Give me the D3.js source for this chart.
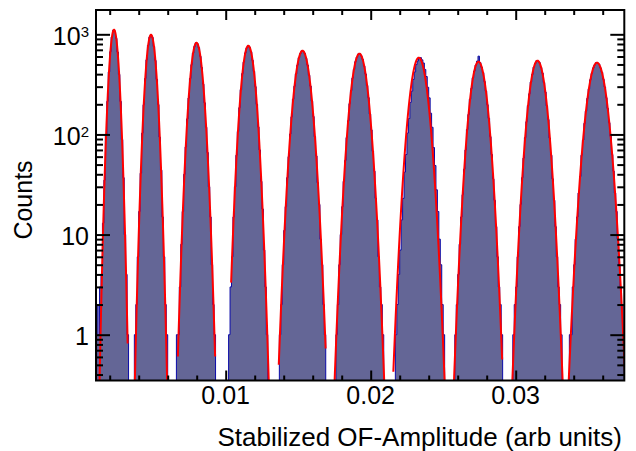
<!DOCTYPE html>
<html><head><meta charset="utf-8">
<script src="https://cdn.jsdelivr.net/npm/d3@7"></script>
<style>body{margin:0;background:#fff}</style>
</head><body><svg id="c" width="636" height="451"></svg>
<script>
// Histogram: bins of width 0.0001 starting at 0.0010
const binStart = 0.0010;
const binWidth = 0.0001;
const binCounts = [
 0,2,1,3,4,13,35,99,214,421,670,938,1095,1080,912,665,398,214,89,37,10,4,1,0,
 0,0,0,
 1,2,6,17,41,103,198,362,556,775,935,985,930,757,548,355,199,94,44,15,6,2,1,
 0,0,0,0,0,0,
 1,1,3,8,17,40,75,143,231,362,498,650,755,822,805,735,603,466,318,207,118,66,30,15,5,2,1,
 0,0,0,0,0,0,0,0,0,
 1,3,6,15,30,62,107,185,280,405,527,652,731,771,742,670,550,427,300,200,119,70,34,18,7,3,1,
 0,0,0,0,0,0,0,0,
 1,2,5,11,19,37,60,101,150,225,303,403,492,584,642,684,677,646,574,493,390,304,215,151,95,61,33,20,9,5,2,1,
 0,0,0,0,0,0,0,
 1,2,5,10,19,34,55,93,137,203,274,365,446,533,590,635,640,610,562,482,402,308,233,160,111,68,43,23,14,6,3,2,1,
 0,0,0,0,0,0,0,0,
 1,2,4,7,14,23,42,63,103,144,209,271,355,421,498,542,580,585,556,517,446,379,296,232,163,118,74,49,28,17,9,5,2,1,
 0,0,0,0,0,0,0,
 1,2,4,8,15,25,45,70,112,158,225,288,368,430,493,540,605,522,470,415,338,272,198,145,95,63,36,22,12,6,3,2,1,
 0,0,0,0,0,0,0,
 1,2,3,6,12,20,37,58,93,134,194,255,334,398,470,512,546,538,520,466,410,330,265,193,141,92,62,36,22,12,6,3,2,1,
 0,0,0,0,0,
 1,1,3,5,9,15,26,38,62,88,129,171,229,285,352,406,462,495,520,517,503,462,418,355,298,233,182,131,96,63,43,26,17,9,5,3,2,1
];
// Gaussian fit parameters per peak
const fitMean  = [0.002297,0.004848,0.007986,0.011559,0.015297,0.019221,0.023317,0.027434,0.031503,0.035607];
const fitSigma = [0.000248,0.000279,0.000338,0.000359,0.000431,0.000441,0.000462,0.000441,0.000452,0.000510];
const fitAmp   = [1110,990,823,769,685,640,584,533,545,521];
const fitLo    = [0.001181,0.003592,0.006702,0.010374,0.013659,0.017237,0.021561,0.025582,0.029469,0.033465];
const fitHi    = [0.003239,0.006104,0.009270,0.013175,0.016892,0.021206,0.025396,0.029066,0.033266,0.037902];
const yTickValues = [1,10,100,1000];
const xTickValues = [0.01,0.02,0.03];
const xTitle = "Stabilized OF-Amplitude (arb units)";
const yTitle = "Counts";

const L=96,R=624.3,T=10,B=380.5;
const svg=d3.select("#c");
const x=d3.scaleLinear().domain([0.001055,0.03749]).range([L,R]);
const y=d3.scaleLog().domain([0.3488,1749]).range([B,T]);
svg.append("clipPath").attr("id","clip").append("rect").attr("x",L).attr("y",T).attr("width",R-L).attr("height",B-T);
const g=svg.append("g").attr("clip-path","url(#clip)");

// histogram as stepped area
const steps=[];
binCounts.forEach((c,i)=>{const x0=binStart+i*binWidth,x1=x0+binWidth;steps.push([x0,c],[x1,c]);});
const yc=c=>c>0?y(c):B+20;
const area=d3.area().x(d=>x(d[0])).y0(B+20).y1(d=>yc(d[1]));
g.append("path").attr("d",area(steps)).attr("fill","#646696").attr("stroke","#0a0aa8").attr("stroke-width",1);

// fit curves
const line=d3.line().x(d=>x(d[0])).y(d=>y(Math.max(d[1],1e-3)));
fitMean.forEach((m,i)=>{
  const s=fitSigma[i],a=fitAmp[i],lo=fitLo[i],hi=fitHi[i];
  const pts=d3.range(0,301).map(k=>{const xv=lo+k*(hi-lo)/300;return [xv,a*Math.exp(-0.5*((xv-m)/s)**2)];});
  g.append("path").attr("d",line(pts)).attr("fill","none").attr("stroke","#ff0000").attr("stroke-width",2);
});

// frame
svg.append("rect").attr("x",L).attr("y",T).attr("width",R-L).attr("height",B-T).attr("fill","none").attr("stroke","#000").attr("stroke-width",2);
// ticks
const yMinor=[];[0.1,1,10,100,1000].forEach(d=>{for(let k=2;k<=9;k++){const v=d*k;if(v>=y.domain()[0]&&v<=y.domain()[1])yMinor.push(v);}});
svg.append("g").attr("transform",`translate(${L},0)`).call(d3.axisRight(y).tickValues(yTickValues).tickSize(14).tickFormat(""));
svg.append("g").attr("transform",`translate(${L},0)`).call(d3.axisRight(y).tickValues(yMinor).tickSize(7).tickFormat(""));
svg.append("g").attr("transform",`translate(${R},0)`).call(d3.axisLeft(y).tickValues(yTickValues).tickSize(14).tickFormat(""));
svg.append("g").attr("transform",`translate(${R},0)`).call(d3.axisLeft(y).tickValues(yMinor).tickSize(7).tickFormat(""));
const xMinor=d3.range(1,19).map(k=>k*0.002).filter(v=>!xTickValues.some(t=>Math.abs(t-v)<1e-9));
svg.append("g").attr("transform",`translate(0,${B})`).call(d3.axisTop(x).tickValues(xTickValues).tickSize(10).tickFormat(""));
svg.append("g").attr("transform",`translate(0,${B})`).call(d3.axisTop(x).tickValues(xMinor).tickSize(5).tickFormat(""));
svg.append("g").attr("transform",`translate(0,${T})`).call(d3.axisBottom(x).tickValues(xTickValues).tickSize(10).tickFormat(""));
svg.append("g").attr("transform",`translate(0,${T})`).call(d3.axisBottom(x).tickValues(xMinor).tickSize(5).tickFormat(""));
svg.selectAll(".domain").remove();
svg.selectAll(".tick line").attr("stroke","#000").attr("stroke-width",2);
// labels
const font="Liberation Sans, Arial, sans-serif";
yTickValues.forEach(v=>{
  const t=svg.append("text").attr("x",89).attr("y",y(v)+10.5).attr("text-anchor","end").attr("font-family",font).attr("font-size",25);
  const e=Math.round(Math.log10(v));
  if(e<=1){t.text(String(v));}
  else{t.append("tspan").text("10");t.append("tspan").attr("font-size",15).attr("dy",-7.5).text(String(e));}
});
xTickValues.forEach(v=>{
  svg.append("text").attr("x",x(v)).attr("y",404).attr("text-anchor","middle").attr("font-family",font).attr("font-size",25).text(String(v));
});
svg.append("text").attr("x",622).attr("y",446).attr("text-anchor","end").attr("font-family",font).attr("font-size",26).text(xTitle);
svg.append("text").attr("transform","translate(32,200) rotate(-90)").attr("text-anchor","middle").attr("font-family",font).attr("font-size",25).text(yTitle);
if(binCounts.length!==365) svg.append("text").attr("x",300).attr("y",200).text("len "+binCounts.length);
</script></body></html>
